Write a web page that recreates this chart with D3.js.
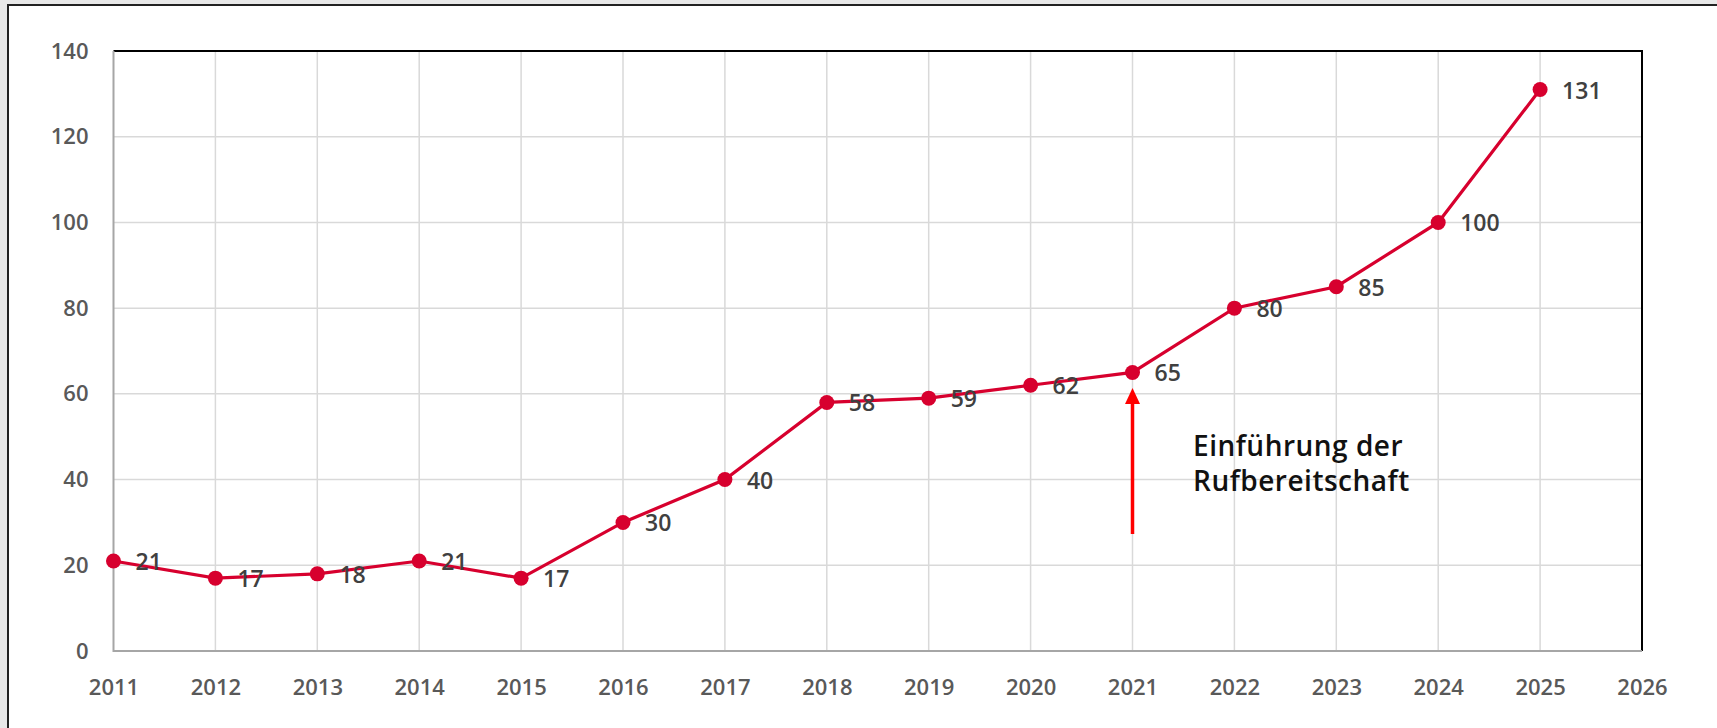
<!DOCTYPE html>
<html lang="de">
<head>
<meta charset="UTF-8">
<title>Einsätze</title>
<script src="https://d3js.org/d3.v7.min.js"></script>
<style>
    body { margin: 0; background: #e8e8e8; overflow: hidden; }
    svg { display: block; font-family: "Open Sans", sans-serif; }
</style>
</head>
<body>
<div id="chart"></div>
<script>
    // data
    const years = [2011, 2012, 2013, 2014, 2015, 2016, 2017, 2018, 2019, 2020, 2021, 2022, 2023, 2024, 2025];
    const counts = [21, 17, 18, 21, 17, 30, 40, 58, 59, 62, 65, 80, 85, 100, 131];
    const xTicks = [2011, 2012, 2013, 2014, 2015, 2016, 2017, 2018, 2019, 2020, 2021, 2022, 2023, 2024, 2025, 2026];
    const yTicks = [0, 20, 40, 60, 80, 100, 120, 140];
    const noteYear = 2021;
    const noteLines = ["Einführung der", "Rufbereitschaft"];

    const width = 1717, height = 728;
    const margin = {top: 51, right: 75, bottom: 77, left: 113.5};

    const svg = d3.select("#chart").append("svg")
        .attr("width", width)
        .attr("height", height);

    // outer frame
    svg.append("rect")
        .attr("x", 8).attr("y", 5)
        .attr("width", width).attr("height", height)
        .attr("fill", "#fff")
        .attr("stroke", "#222")
        .attr("stroke-width", 2);

    const x = d3.scaleLinear().domain([2011, 2026]).range([margin.left, width - margin.right]);
    const y = d3.scaleLinear().domain([0, 140]).range([height - margin.bottom, margin.top]);

    // grid
    svg.append("g").selectAll("line.v")
        .data(xTicks.slice(1, -1))
        .join("line")
        .attr("x1", d => x(d)).attr("x2", d => x(d))
        .attr("y1", y(0)).attr("y2", y(140))
        .attr("stroke", "#d9d9d9").attr("stroke-width", 1.5);

    svg.append("g").selectAll("line.h")
        .data(yTicks.slice(1, -1))
        .join("line")
        .attr("y1", d => y(d)).attr("y2", d => y(d))
        .attr("x1", x(2011)).attr("x2", x(2026))
        .attr("stroke", "#d9d9d9").attr("stroke-width", 1.5);

    // frame: black top/right, grey axis left/bottom
    svg.append("path")
        .attr("d", `M${x(2011)},${y(140)}H${x(2026)}V${y(0)}`)
        .attr("fill", "none").attr("stroke", "#000").attr("stroke-width", 2);
    svg.append("path")
        .attr("d", `M${x(2011)},${y(140)}V${y(0)}H${x(2026)}`)
        .attr("fill", "none").attr("stroke", "#a6a6a6").attr("stroke-width", 2);

    // axes labels
    const xAxis = d3.axisBottom(x).tickValues(xTicks).tickFormat(d3.format("d")).tickSize(0).tickPadding(28);
    const yAxis = d3.axisLeft(y).tickValues(yTicks).tickSize(0).tickPadding(25);

    svg.append("g")
        .attr("transform", `translate(0,${y(0)})`)
        .call(xAxis)
        .call(g => g.select(".domain").remove())
        .selectAll("text")
        .attr("font-size", 22).attr("font-weight", 600).attr("fill", "#595959")
        .attr("font-family", "Open Sans");

    svg.append("g")
        .attr("transform", `translate(${x(2011)},0)`)
        .call(yAxis)
        .call(g => g.select(".domain").remove())
        .selectAll("text")
        .attr("font-size", 22).attr("font-weight", 600).attr("fill", "#595959")
        .attr("font-family", "Open Sans");

    // line + markers
    const pts = years.map((yr, i) => ({year: yr, val: counts[i]}));
    const line = d3.line().x(d => x(d.year)).y(d => y(d.val));

    svg.append("path")
        .datum(pts)
        .attr("d", line)
        .attr("fill", "none")
        .attr("stroke", "#d7002e")
        .attr("stroke-width", 3.2);

    svg.append("g").selectAll("circle")
        .data(pts)
        .join("circle")
        .attr("cx", d => x(d.year))
        .attr("cy", d => y(d.val))
        .attr("r", 7.5)
        .attr("fill", "#d7002e");

    svg.append("g").selectAll("text")
        .data(pts)
        .join("text")
        .attr("x", d => x(d.year) + 22)
        .attr("y", d => y(d.val) + 9)
        .attr("font-size", 23).attr("font-weight", 600).attr("fill", "#404040")
        .text(d => d.val);

    // annotation arrow
    const ax = x(noteYear);
    svg.append("line")
        .attr("x1", ax).attr("x2", ax)
        .attr("y1", 534).attr("y2", 400)
        .attr("stroke", "#ff0000").attr("stroke-width", 3.5);
    svg.append("path")
        .attr("d", `M${ax},388L${ax + 7.5},404L${ax - 7.5},404Z`)
        .attr("fill", "#ff0000");

    svg.append("g").selectAll("text")
        .data(noteLines)
        .join("text")
        .attr("x", 1193)
        .attr("y", (d, i) => 456 + i * 35)
        .attr("font-size", 28).attr("font-weight", 600).attr("letter-spacing", 0.5).attr("fill", "#111")
        .text(d => d);
</script>
</body>
</html>
